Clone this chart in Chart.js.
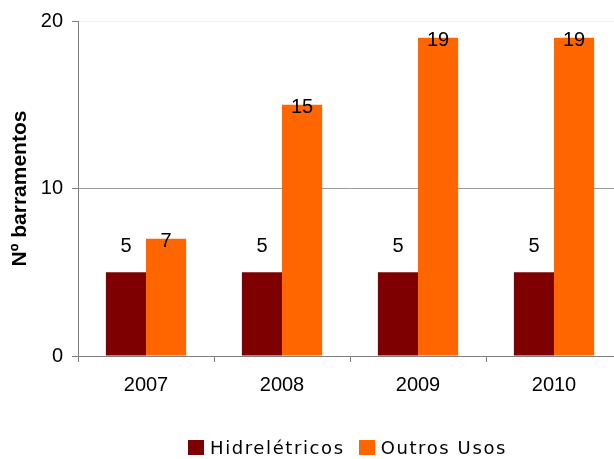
<!DOCTYPE html>
<html>
<head>
<meta charset="utf-8">
<script src="https://cdn.jsdelivr.net/npm/chart.js@4"></script>
<style>
  html, body { margin: 0; padding: 0; background: #fff; overflow: hidden; }
  #wrap { position: relative; width: 630px; height: 459px; }
  #legend {
    position: absolute; left: 188px; top: 437px;
    display: flex; align-items: center;
    font-family: "DejaVu Sans", sans-serif; font-size: 18px;
    letter-spacing: 1.6px; color: #000; white-space: nowrap;
  }
  #legend .item { display: flex; align-items: center; margin-right: 14px; }
  #legend .box { width: 16px; height: 15px; margin-right: 6px; }
</style>
</head>
<body>
<div id="wrap">
  <canvas id="chart" width="630" height="459"></canvas>
  <div id="legend"></div>
</div>
<script>
const years = ["2007", "2008", "2009", "2010"];
const hidreletricos = [5, 5, 5, 5];
const outrosUsos = [7, 15, 19, 19];
const yTicks = [0, 10, 20];
const seriesNames = ["Hidrelétricos", "Outros Usos"];
const seriesColors = ["#7f0000", "#ff6600"];

// value labels: dark bars sit above, orange bars just inside the top
const barLabels = {
  id: "barLabels",
  afterDatasetsDraw(chart) {
    const ctx = chart.ctx;
    ctx.save();
    ctx.font = "20px 'Liberation Sans', Arial, sans-serif";
    ctx.fillStyle = "#000";
    ctx.textAlign = "center";
    ctx.textBaseline = "middle";
    chart.data.datasets.forEach((ds, i) => {
      chart.getDatasetMeta(i).data.forEach((bar, j) => {
        const dy = i === 0 ? -26 : 3;
        ctx.fillText(String(ds.data[j]), bar.x, bar.y + dy);
      });
    });
    ctx.restore();
  },
};

const chart = new Chart(document.getElementById("chart").getContext("2d"), {
  type: "bar",
  data: {
    labels: years,
    datasets: [
      {
        label: seriesNames[0],
        data: hidreletricos,
        backgroundColor: seriesColors[0],
        categoryPercentage: 0.59,
        barPercentage: 1,
      },
      {
        label: seriesNames[1],
        data: outrosUsos,
        backgroundColor: seriesColors[1],
        categoryPercentage: 0.59,
        barPercentage: 1,
      },
    ],
  },
  options: {
    responsive: false,
    animation: false,
    layout: { padding: { left: 0, top: 20, right: 8, bottom: 0 } },
    plugins: {
      tooltip: { enabled: false },
      legend: { display: false },
    },
    scales: {
      x: {
        offset: true,
        border: { color: "#808080", width: 1 },
        grid: {
          offset: true,
          drawOnChartArea: false,
          tickLength: 6,
          tickColor: "#808080",
        },
        ticks: {
          color: "#000",
          padding: 11,
          font: { family: "'Liberation Sans', Arial, sans-serif", size: 20 },
        },
        afterFit(scale) {
          scale.height = 103;
        },
      },
      y: {
        min: 0,
        max: 20,
        afterBuildTicks(scale) {
          scale.ticks = yTicks.map((v) => ({ value: v }));
        },
        border: { color: "#808080", width: 1 },
        grid: {
          color: (c) => (c.tick && c.tick.value === 20 ? "#f2f2f2" : "#9a9a9a"),
          tickColor: "#808080",
          tickLength: 6,
        },
        ticks: {
          color: "#000",
          padding: 9,
          font: { family: "'Liberation Sans', Arial, sans-serif", size: 20 },
        },
        title: {
          display: true,
          text: "Nº barramentos",
          color: "#000",
          padding: { top: 8, bottom: 0 },
          font: { family: "'Liberation Sans', Arial, sans-serif", size: 21, weight: "bold" },
        },
        afterFit(scale) {
          scale.width = 78;
        },
      },
    },
  },
  plugins: [barLabels],
});

// legend as html so the letter spacing matches
const legendEl = document.getElementById("legend");
chart.data.datasets.forEach((ds) => {
  const item = document.createElement("div");
  item.className = "item";
  const box = document.createElement("span");
  box.className = "box";
  box.style.background = ds.backgroundColor;
  const txt = document.createElement("span");
  txt.textContent = ds.label;
  item.appendChild(box);
  item.appendChild(txt);
  legendEl.appendChild(item);
});
</script>
</body>
</html>
